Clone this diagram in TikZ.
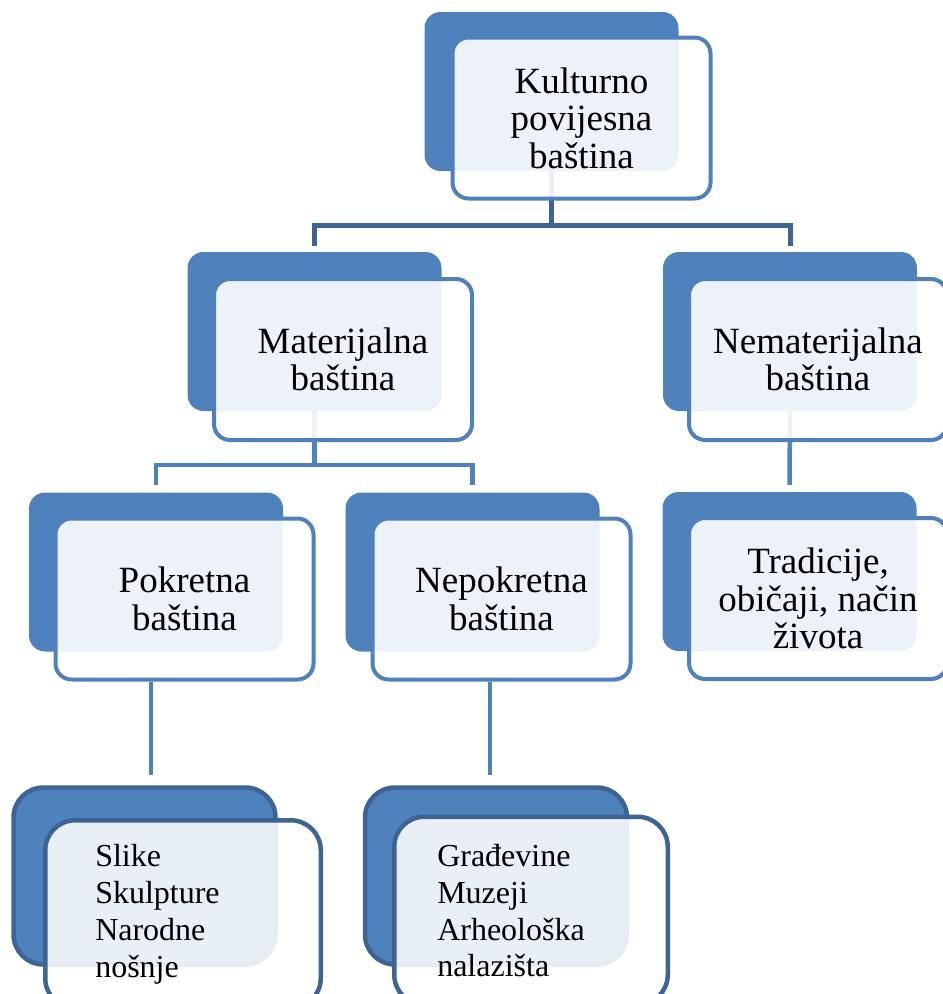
\documentclass[tikz,border=0pt]{standalone}
\usepackage{fontspec}
\setmainfont{Liberation Serif}
\usetikzlibrary{calc}
\definecolor{plava}{RGB}{79,129,189}
\definecolor{tamnoplava}{RGB}{61,100,149}
\tikzset{
sjena/.style={rectangle,rounded corners=16pt,fill=plava,minimum width=254pt,minimum height=159pt,inner sep=0pt},
okvir/.style={rectangle,rounded corners=16pt,draw=plava,line width=4pt,fill=white,fill opacity=0.9,text opacity=1,minimum width=258pt,minimum height=161pt,inner sep=0pt,align=center,font=\fontsize{37}{37.5}\selectfont},
sjena donja/.style={rectangle,rounded corners=30pt,fill=plava,draw=tamnoplava,line width=4.5pt,minimum width=262pt,minimum height=177pt,inner sep=0pt},
okvir donji/.style={rectangle,rounded corners=30pt,draw=tamnoplava,line width=4.5pt,fill=white,fill opacity=0.88,text opacity=1,minimum height=188pt,inner ysep=0pt,align=left,font=\fontsize{32}{36.7}\selectfont},
veza/.style={plava,line width=4.5pt},
veza gornja/.style={tamnoplava,line width=5pt}}

\begin{document}
\begin{tikzpicture}[x=1pt,y=-1pt]

\useasboundingbox (0,0) rectangle (943,994);
\clip (0,0) rectangle (943,994);

% pozadinski pravokutnici
\node[sjena] (1b) at (551.5,91.5) {};
\node[sjena] (2b) at (314.5,331.5) {};
\node[sjena] (3b) at (790,331.5) {};
\node[sjena] (4b) at (156,572) {};
\node[sjena] (5b) at (472.5,572) {};
\node[sjena] (6b) at (789.5,571.5) {};
\node[sjena donja] (7b) at (144.5,876) {};
\node[sjena donja] (8b) at (496,876) {};

\coordinate (r1) at (551.5,225.5);
\coordinate (r2) at (314.5,465);

\draw[veza gornja] (1b.south) -- (r1);
\draw[veza gornja] ([yshift=6pt]2b.north) |- (r1) -| ([yshift=6pt]3b.north);
\draw[veza] (2b.south) -- (r2);
\draw[veza] ([yshift=7pt]4b.north) |- (r2) -| ([yshift=7pt]5b.north);
\draw[veza] (3b.south) -- ([yshift=7pt]6b.north);

% prednji pravokutnici
\node[okvir] (1) at (581.5,118) {Kulturno\\povijesna\\baština};
\node[okvir] (2) at (343,359.5) {Materijalna\\baština};
\node[okvir] (3) at (818,359.5) {Nematerijalna\\baština};
\node[okvir] (4) at (184.5,599) {Pokretna\\baština};
\node[okvir] (5) at (501.5,599) {Nepokretna\\baština};
\node[okvir] (6) at (818,598.5) {Tradicije,\\običaji, način\\života};
\node[okvir donji,inner xsep=50pt,text width=175.5pt] (7) at (183,914.25) {Slike\\Skulpture\\Narodne\\nošnje};
\node[okvir donji,inner xsep=43pt,text width=187.5pt] (8) at (531,910.75) {Građevine\\Muzeji\\Arheološka\\nalazišta};

\draw[veza] ($(7b.north |- 4.south)+(6.5,0)$) -- ($(7b.north)+(6.5,-10)$);
\draw[veza] ($(8b.north |- 5.south)+(-6,0)$) -- ($(8b.north)+(-6,-10)$);

\end{tikzpicture}
\end{document}
